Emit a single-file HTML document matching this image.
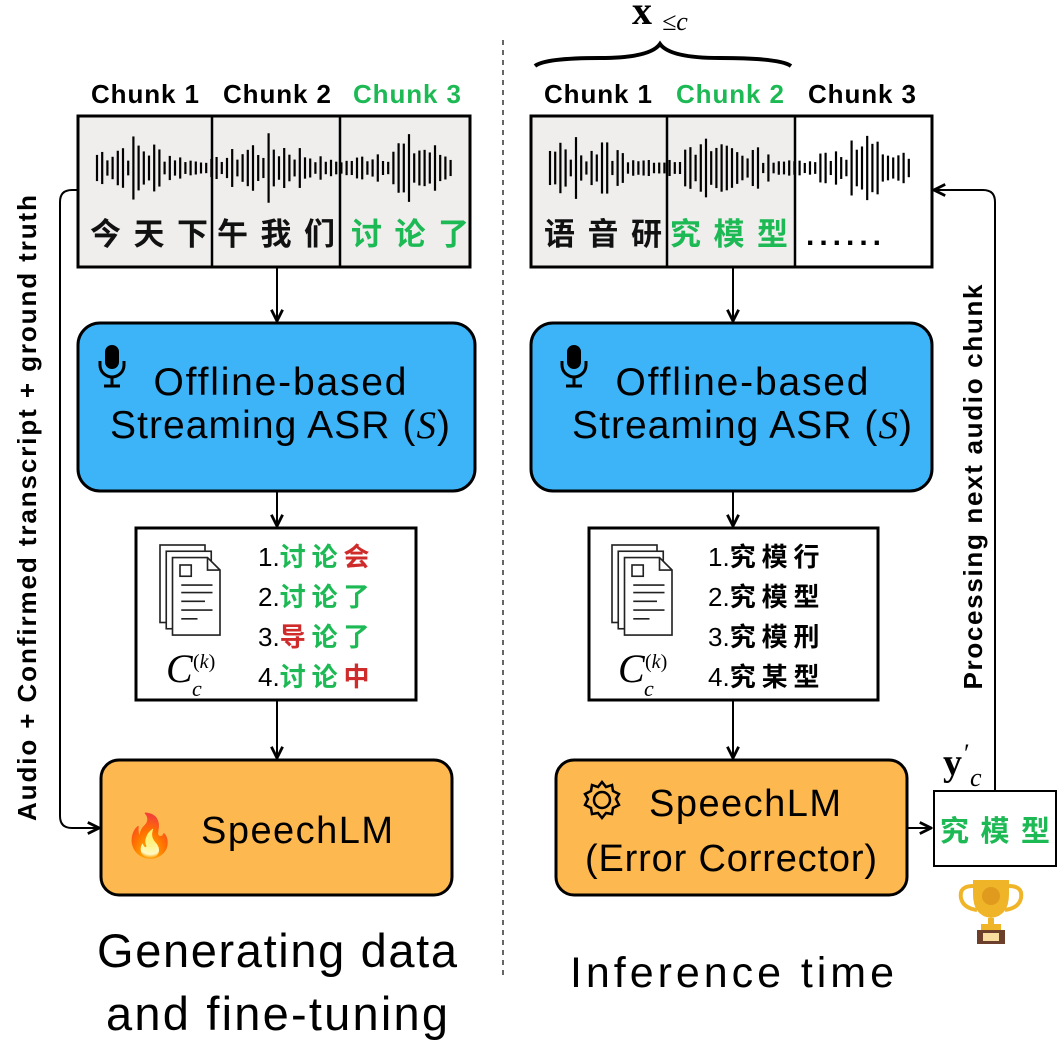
<!DOCTYPE html>
<html><head><meta charset="utf-8"><style>
html,body{margin:0;padding:0;background:#fff}
svg{display:block}
text{font-family:"Liberation Sans","Noto Sans CJK SC",sans-serif}
.cj{font-family:"Noto Sans CJK SC",sans-serif;font-weight:700}
.m{font-family:"Liberation Serif",serif}
</style></head><body>
<svg id="s" width="1058" height="1055" viewBox="0 0 1058 1055" xmlns="http://www.w3.org/2000/svg">
<defs><marker id="a" viewBox="0 0 10 10" refX="9" refY="5" markerWidth="7" markerHeight="7" orient="auto"><path d="M1,1 L9,5 L1,9" fill="none" stroke="#000" stroke-width="2"/></marker></defs>
<line x1="503" y1="40" x2="503" y2="975" stroke="#333" stroke-width="1.5" stroke-dasharray="5,5"/>

<!-- LEFT -->
<text x="145" y="103" font-size="26" font-weight="700" text-anchor="middle" textLength="108">Chunk 1</text>
<text x="277" y="103" font-size="26" font-weight="700" text-anchor="middle" textLength="108">Chunk 2</text>
<text x="407" y="103" font-size="26" font-weight="700" text-anchor="middle" fill="#1db954" textLength="108">Chunk 3</text>
<rect x="78" y="116" width="392" height="151" fill="#efeeed" stroke="#000" stroke-width="3"/>
<line x1="212" y1="116" x2="212" y2="267" stroke="#000" stroke-width="2.5"/>
<line x1="340" y1="116" x2="340" y2="267" stroke="#000" stroke-width="2.5"/>
<g id="w1"></g>
<text class="cj" x="90" y="245" font-size="31" fill="#111" textLength="118">今天下</text>
<text class="cj" x="217" y="245" font-size="31" fill="#111" textLength="118">午我们</text>
<text class="cj" x="351" y="245" font-size="31" fill="#1db954" textLength="118">讨论了</text>

<line x1="277" y1="267" x2="277" y2="321" stroke="#000" stroke-width="2" marker-end="url(#a)"/>
<rect x="78" y="323" width="397" height="168" rx="22" fill="#3db4f7" stroke="#000" stroke-width="3"/>
<g transform="translate(98,345)"><rect x="7" y="0" width="14" height="24" rx="7" fill="#000"/><path d="M2,16 v4 a12,12 0 0 0 24,0 v-4" fill="none" stroke="#000" stroke-width="3"/><line x1="14" y1="32" x2="14" y2="40" stroke="#000" stroke-width="3"/><line x1="6" y1="41" x2="22" y2="41" stroke="#000" stroke-width="3"/></g>
<text x="280" y="395" font-size="39" text-anchor="middle" textLength="253">Offline-based</text>
<text x="280" y="438" font-size="39" text-anchor="middle" textLength="340">Streaming ASR (<tspan class="m" font-style="italic">S</tspan>)</text>

<line x1="277" y1="491" x2="277" y2="526" stroke="#000" stroke-width="2" marker-end="url(#a)"/>
<rect x="136" y="528" width="280" height="172" fill="#fff" stroke="#000" stroke-width="3"/>
<g id="doc1" transform="translate(160,545)"></g>
<text class="m" x="166" y="682" font-size="40" font-style="italic">C</text><text class="m" x="192" y="696" font-size="22" font-style="italic">c</text><text class="m" x="193" y="668" font-size="20">(<tspan font-style="italic">k</tspan>)</text>
<g font-size="26">
<text x="258" y="566">1.<tspan class="cj" fill="#1db954">讨 论 </tspan><tspan class="cj" fill="#d02b2b">会</tspan></text>
<text x="258" y="606">2.<tspan class="cj" fill="#1db954">讨 论 了</tspan></text>
<text x="258" y="646">3.<tspan class="cj" fill="#d02b2b">导 </tspan><tspan class="cj" fill="#1db954">论 了</tspan></text>
<text x="258" y="686">4.<tspan class="cj" fill="#1db954">讨 论 </tspan><tspan class="cj" fill="#d02b2b">中</tspan></text>
</g>
<line x1="277" y1="700" x2="277" y2="758" stroke="#000" stroke-width="2" marker-end="url(#a)"/>
<rect x="101" y="760" width="351" height="135" rx="18" fill="#fdb84f" stroke="#000" stroke-width="3"/>
<text x="150" y="850" font-size="42" text-anchor="middle">🔥</text>
<text x="297" y="843" font-size="38" text-anchor="middle" textLength="192">SpeechLM</text>
<text x="277" y="967" font-size="47" text-anchor="middle" textLength="360">Generating data</text>
<text x="277" y="1030" font-size="47" text-anchor="middle" textLength="342">and fine-tuning</text>
<path d="M78,190 H72 Q60,190 60,202 V816 Q60,828 72,828 H99" fill="none" stroke="#000" stroke-width="2" marker-end="url(#a)"/>
<text transform="translate(36,508) rotate(-90)" font-size="26" font-weight="700" text-anchor="middle" textLength="626">Audio + Confirmed transcript + ground truth</text>

<!-- RIGHT -->
<path d="M535,66 Q545,58 600,58 Q650,58 660,44 Q670,58 720,58 Q780,58 791,66" fill="none" stroke="#000" stroke-width="4"/>
<text class="m" x="632" y="24" font-size="40" font-weight="700">x</text><text class="m" x="662" y="30" font-size="26" font-style="italic">≤c</text>
<text x="598" y="103" font-size="26" font-weight="700" text-anchor="middle" textLength="108">Chunk 1</text>
<text x="730" y="103" font-size="26" font-weight="700" text-anchor="middle" fill="#1db954" textLength="108">Chunk 2</text>
<text x="862" y="103" font-size="26" font-weight="700" text-anchor="middle" textLength="108">Chunk 3</text>
<rect x="531" y="116" width="401" height="151" fill="#efeeed" stroke="#000" stroke-width="3"/>
<rect x="795" y="117.5" width="135.5" height="148" fill="#fff"/>
<line x1="667" y1="116" x2="667" y2="267" stroke="#000" stroke-width="2.5"/>
<line x1="795" y1="116" x2="795" y2="267" stroke="#000" stroke-width="2.5"/>
<g id="w2"></g>
<text class="cj" x="544" y="245" font-size="31" fill="#111" textLength="118">语音研</text>
<text class="cj" x="670" y="245" font-size="31" fill="#1db954" textLength="118">究模型</text>
<text x="806" y="245" font-size="30" font-weight="700" letter-spacing="5">......</text>

<line x1="733" y1="267" x2="733" y2="321" stroke="#000" stroke-width="2" marker-end="url(#a)"/>
<rect x="531" y="323" width="401" height="168" rx="22" fill="#3db4f7" stroke="#000" stroke-width="3"/>
<g transform="translate(560,345)"><rect x="7" y="0" width="14" height="24" rx="7" fill="#000"/><path d="M2,16 v4 a12,12 0 0 0 24,0 v-4" fill="none" stroke="#000" stroke-width="3"/><line x1="14" y1="32" x2="14" y2="40" stroke="#000" stroke-width="3"/><line x1="6" y1="41" x2="22" y2="41" stroke="#000" stroke-width="3"/></g>
<text x="742" y="395" font-size="39" text-anchor="middle" textLength="253">Offline-based</text>
<text x="742" y="438" font-size="39" text-anchor="middle" textLength="340">Streaming ASR (<tspan class="m" font-style="italic">S</tspan>)</text>

<line x1="733" y1="491" x2="733" y2="526" stroke="#000" stroke-width="2" marker-end="url(#a)"/>
<rect x="589" y="528" width="289" height="172" fill="#fff" stroke="#000" stroke-width="3"/>
<g id="doc2" transform="translate(612,545)"></g>
<text class="m" x="618" y="682" font-size="40" font-style="italic">C</text><text class="m" x="644" y="696" font-size="22" font-style="italic">c</text><text class="m" x="645" y="668" font-size="20">(<tspan font-style="italic">k</tspan>)</text>
<g font-size="26">
<text x="708" y="566">1.<tspan class="cj">究 模 行</tspan></text>
<text x="708" y="606">2.<tspan class="cj">究 模 型</tspan></text>
<text x="708" y="646">3.<tspan class="cj">究 模 刑</tspan></text>
<text x="708" y="686">4.<tspan class="cj">究 某 型</tspan></text>
</g>
<line x1="733" y1="700" x2="733" y2="758" stroke="#000" stroke-width="2" marker-end="url(#a)"/>
<rect x="556" y="760" width="351" height="135" rx="18" fill="#fdb84f" stroke="#000" stroke-width="3"/>
<g transform="translate(602,800)" fill="none" stroke="#000" stroke-width="2.5"><circle r="8"/><path d="M0,-18 L4,-13 L10,-15 L11,-9 L17,-6 L14,-1 L17,5 L11,8 L10,14 L4,13 L0,18 L-4,13 L-10,14 L-11,8 L-17,5 L-14,-1 L-17,-6 L-11,-9 L-10,-15 L-4,-13 Z"/></g>
<text x="745" y="816" font-size="38" text-anchor="middle" textLength="192">SpeechLM</text>
<text x="731" y="871" font-size="38" text-anchor="middle" textLength="292">(Error Corrector)</text>
<line x1="907" y1="828" x2="931" y2="828" stroke="#000" stroke-width="2" marker-end="url(#a)"/>
<rect x="934" y="791" width="122" height="75" fill="#fff" stroke="#000" stroke-width="2"/>
<text class="cj" x="940" y="841" font-size="29" fill="#1db954" textLength="110">究模型</text>
<text class="m" x="943" y="775" font-size="38" font-weight="700">y</text><text class="m" x="964" y="762" font-size="26">′</text><text class="m" x="970" y="786" font-size="26" font-style="italic">c</text>
<path d="M995,791 V202 Q995,190 983,190 H934" fill="none" stroke="#000" stroke-width="2" marker-end="url(#a)"/>
<text transform="translate(982,487) rotate(-90)" font-size="26" font-weight="700" text-anchor="middle" textLength="405">Processing next audio chunk</text>
<g transform="translate(991,880)">
<path d="M-18,0 H18 V14 Q18,36 0,38 Q-18,36 -18,14 Z" fill="#f0b429"/>
<path d="M-18,6 Q-32,6 -30,18 Q-28,28 -14,30" fill="none" stroke="#f0b429" stroke-width="4"/>
<path d="M18,6 Q32,6 30,18 Q28,28 14,30" fill="none" stroke="#f0b429" stroke-width="4"/>
<circle cx="0" cy="16" r="9" fill="#e09a1d"/>
<rect x="-3" y="38" width="6" height="8" fill="#f0b429"/>
<rect x="-10" y="44" width="20" height="6" fill="#f0b429"/>
<rect x="-14" y="50" width="28" height="14" fill="#6b3f2a"/>
<rect x="-8" y="53" width="16" height="8" fill="#f7dca0"/>
</g>
<text x="732" y="987" font-size="43" text-anchor="middle" textLength="324">Inference time</text>
</svg>
<script>
var NS="http://www.w3.org/2000/svg";
function bars(id,x0,x1,cy,seed){var g=document.getElementById(id);var s=seed;
for(var x=x0;x<=x1;x+=5.2){s=(s*9301+49297)%233280;var r=s/233280;var p=Math.sin((x-x0)/22)*0.5+0.6;var h=10+r*55*p;
var l=document.createElementNS(NS,"line");l.setAttribute("x1",x);l.setAttribute("x2",x);l.setAttribute("y1",cy-h/2);l.setAttribute("y2",cy+h/2);l.setAttribute("stroke","#000");l.setAttribute("stroke-width","2.2");g.appendChild(l);}}
bars("w1",97,455,168,7);bars("w2",550,910,168,13);
function doc(id){var g=document.getElementById(id);g.innerHTML='<g transform="scale(1.25)"><g fill="#fff" stroke="#222" stroke-width="1.3"><rect x="0" y="0" width="36" height="62"/><rect x="5" y="5" width="36" height="62"/><path d="M10,10 H38 L48,20 V72 H10 Z"/><path d="M38,10 V20 H48" fill="none"/><rect x="16" y="16" width="9" height="9"/><path d="M17,32 H42 M17,38 H42 M17,45 H36 M17,52 H42 M17,59 H30" fill="none"/></g></g>';}
doc("doc1");doc("doc2");
</script>
</body></html>
